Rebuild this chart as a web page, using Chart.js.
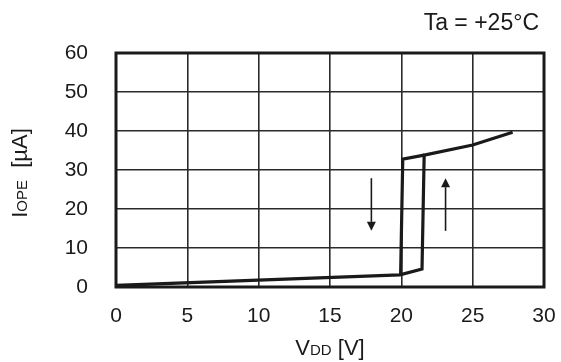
<!DOCTYPE html>
<html>
<head>
<meta charset="utf-8">
<script src="https://cdn.jsdelivr.net/npm/chart.js@4/dist/chart.umd.min.js"></script>
<style>
  html, body { margin: 0; padding: 0; background: #fff; }
  #wrap { width: 561px; height: 362px; }
</style>
</head>
<body>
<div id="wrap"><canvas id="c" width="561" height="362"></canvas></div>
<script>
// Operating current vs supply voltage (hysteresis loop)
const vddRising = [0, 19.9, 21.45, 21.6, 25.0, 27.8];
const iopeRising = [0.4, 3.1, 4.6, 33.8, 36.4, 39.7];
const vddFalling = [21.6, 20.1, 19.95];
const iopeFalling = [33.8, 32.8, 3.1];

// Direction arrows: [x, yStart, yEnd]
const arrowDown = [17.9, 27.9, 14.4];
const arrowUp = [23.1, 14.4, 27.9];

const xTicks = [0, 5, 10, 15, 20, 25, 30];
const yTicks = [0, 10, 20, 30, 40, 50, 60];

const FONT = '"Liberation Sans", Arial, sans-serif';
const TICK_SIZE = 21;

function pts(xs, ys) { return xs.map((x, i) => ({ x, y: ys[i] })); }

const decor = {
  id: 'decor',
  afterDatasetsDraw(chart) {
    const { ctx, chartArea: a, scales: { x, y } } = chart;
    ctx.save();
    // frame
    ctx.strokeStyle = '#1a1a1a';
    ctx.lineWidth = 3;
    ctx.strokeRect(a.left, a.top, a.right - a.left, a.bottom - a.top);

    // arrows
    function arrow(spec) {
      const px = x.getPixelForValue(spec[0]);
      const y0 = y.getPixelForValue(spec[1]);
      const y1 = y.getPixelForValue(spec[2]);
      const dir = Math.sign(y1 - y0);
      const head = 9;
      ctx.strokeStyle = '#1a1a1a';
      ctx.fillStyle = '#1a1a1a';
      ctx.lineWidth = 1.6;
      ctx.beginPath();
      ctx.moveTo(px, y0);
      ctx.lineTo(px, y1 - dir * head);
      ctx.stroke();
      ctx.beginPath();
      ctx.moveTo(px, y1);
      ctx.lineTo(px - 4.5, y1 - dir * head);
      ctx.lineTo(px + 4.5, y1 - dir * head);
      ctx.closePath();
      ctx.fill();
    }
    arrow(arrowDown);
    arrow(arrowUp);

    ctx.fillStyle = '#1a1a1a';
    ctx.textBaseline = 'alphabetic';

    // x title: VDD [V]
    const big = '22px ' + FONT, small = '15px ' + FONT;
    const parts = [['V', big], ['DD', small], [' [V]', big]];
    let w = 0;
    parts.forEach(p => { ctx.font = p[1]; w += ctx.measureText(p[0]).width; });
    let cx = (a.left + a.right) / 2 - w / 2;
    parts.forEach(p => { ctx.font = p[1]; ctx.fillText(p[0], cx, 355); cx += ctx.measureText(p[0]).width; });

    // y title: IOPE [µA]
    ctx.save();
    ctx.translate(27, 173);
    ctx.rotate(-Math.PI / 2);
    const yparts = [['I', big], ['OPE', small], ['  [µA]', big]];
    w = 0;
    yparts.forEach(p => { ctx.font = p[1]; w += ctx.measureText(p[0]).width; });
    cx = -w / 2;
    yparts.forEach(p => { ctx.font = p[1]; ctx.fillText(p[0], cx, 0); cx += ctx.measureText(p[0]).width; });
    ctx.restore();

    // condition
    ctx.font = '23px ' + FONT;
    ctx.textAlign = 'right';
    ctx.fillText('Ta = +25°C', 539, 30);
    ctx.restore();
  }
};

new Chart(document.getElementById('c'), {
  type: 'scatter',
  data: {
    datasets: [
      { data: pts(vddRising, iopeRising), showLine: true, borderColor: '#1a1a1a', borderWidth: 3.2, pointRadius: 0, tension: 0, borderJoinStyle: 'miter' },
      { data: pts(vddFalling, iopeFalling), showLine: true, borderColor: '#1a1a1a', borderWidth: 3.2, pointRadius: 0, tension: 0, borderJoinStyle: 'miter' }
    ]
  },
  options: {
    responsive: false,
    animation: false,
    devicePixelRatio: 1,
    layout: { padding: { top: 53, right: 17, left: 0, bottom: 0 } },
    plugins: { legend: { display: false }, tooltip: { enabled: false } },
    scales: {
      x: {
        type: 'linear', min: 0, max: 30,
        afterBuildTicks(s) { s.ticks = xTicks.map(v => ({ value: v })); },
        afterFit(s) { s.height = 75; s.paddingLeft = 0; s.paddingRight = 0; },
        grid: { color: '#2a2a2a', lineWidth: 1.6, drawTicks: false },
        border: { display: false },
        ticks: { color: '#1a1a1a', font: { family: FONT, size: TICK_SIZE }, padding: 17, maxRotation: 0 }
      },
      y: {
        type: 'linear', min: 0, max: 60,
        afterBuildTicks(s) { s.ticks = yTicks.map(v => ({ value: v })); },
        afterFit(s) { s.width = 116; s.paddingTop = 0; s.paddingBottom = 0; },
        grid: { color: '#2a2a2a', lineWidth: 1.6, drawTicks: false },
        border: { display: false },
        ticks: { color: '#1a1a1a', font: { family: FONT, size: TICK_SIZE }, padding: 28 }
      }
    }
  },
  plugins: [decor]
});
</script>
</body>
</html>
